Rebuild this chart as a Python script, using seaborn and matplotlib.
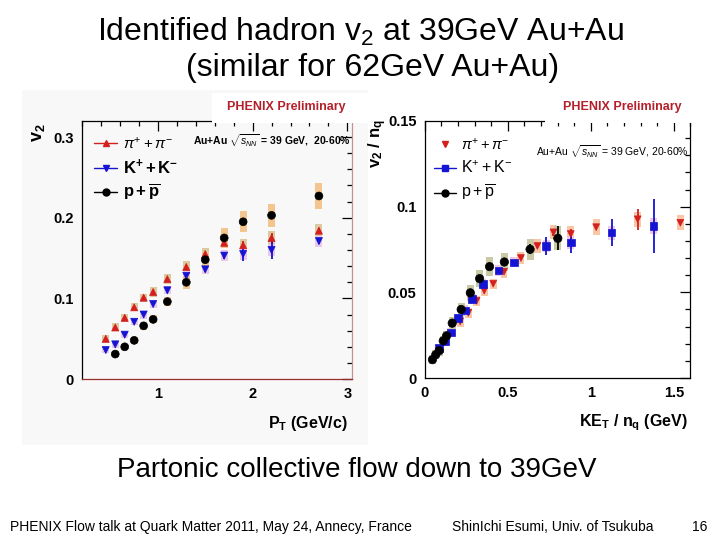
import numpy as np
import pandas as pd
import seaborn as sns
import matplotlib
matplotlib.use("Agg")
import matplotlib.pyplot as plt
from matplotlib.lines import Line2D
from matplotlib.patches import Rectangle
from matplotlib.ticker import MultipleLocator

# ---- left panel: v2 vs pT ----
pt_pi = [0.45, 0.55, 0.65, 0.75, 0.85, 0.95, 1.1, 1.3, 1.5, 1.7, 1.9, 2.2, 2.7]
v2_pi = [0.050, 0.064, 0.076, 0.089, 0.101, 0.108, 0.124, 0.139, 0.155, 0.169, 0.166, 0.175, 0.184]
stat_pi = [0.001, 0.001, 0.001, 0.001, 0.001, 0.001, 0.001, 0.002, 0.002, 0.003, 0.005, 0.006, 0.003]
sys_pi = [0.005, 0.005, 0.005, 0.005, 0.005, 0.006, 0.006, 0.007, 0.007, 0.007, 0.008, 0.008, 0.008]

pt_k = [0.45, 0.55, 0.65, 0.75, 0.85, 0.95, 1.1, 1.3, 1.5, 1.7, 1.9, 2.2, 2.7]
v2_k = [0.036, 0.043, 0.055, 0.071, 0.080, 0.093, 0.110, 0.128, 0.136, 0.153, 0.155, 0.160, 0.171]
stat_k = [0.001, 0.001, 0.001, 0.001, 0.001, 0.001, 0.002, 0.002, 0.003, 0.004, 0.009, 0.011, 0.004]
sys_k = [0.004, 0.004, 0.004, 0.004, 0.005, 0.005, 0.005, 0.006, 0.006, 0.007, 0.007, 0.007, 0.007]

pt_p = [0.55, 0.65, 0.75, 0.85, 0.95, 1.1, 1.3, 1.5, 1.7, 1.9, 2.2, 2.7]
v2_p = [0.031, 0.040, 0.048, 0.066, 0.074, 0.096, 0.120, 0.148, 0.175, 0.195, 0.203, 0.227]
stat_p = [0.001, 0.001, 0.001, 0.001, 0.001, 0.002, 0.002, 0.002, 0.003, 0.003, 0.004, 0.004]
sys_p = [0.004, 0.004, 0.004, 0.005, 0.005, 0.006, 0.008, 0.010, 0.012, 0.013, 0.014, 0.016]

# ---- right panel: v2/nq vs KET/nq ----
ket_pi = [0.213, 0.262, 0.312, 0.358, 0.412, 0.477, 0.579, 0.678, 0.775, 0.879, 1.032, 1.282, 1.539]
v2n_pi = [0.033, 0.038, 0.045, 0.051, 0.055, 0.062, 0.070, 0.077, 0.085, 0.084, 0.088, 0.0926, 0.0906]
statn_pi = [0.0, 0.0, 0.0, 0.0, 0.0, 0.0, 0.0, 0.001, 0.002, 0.003, 0.001, 0.006, 0.001]
sysn_pi = [0.003, 0.003, 0.003, 0.003, 0.003, 0.0035, 0.0035, 0.004, 0.004, 0.0045, 0.0045, 0.0045, 0.0045]

ket_k = [0.087, 0.121, 0.157, 0.201, 0.241, 0.286, 0.350, 0.443, 0.537, 0.730, 0.879, 1.125, 1.378]
v2n_k = [0.0175, 0.0213, 0.0266, 0.035, 0.0394, 0.046, 0.0547, 0.0627, 0.0675, 0.077, 0.079, 0.0848, 0.0887]
statn_k = [0.0, 0.0, 0.0, 0.0, 0.0, 0.0, 0.0, 0.001, 0.001, 0.005, 0.006, 0.008, 0.016]
sysn_k = [0.0025, 0.0025, 0.0025, 0.0025, 0.003, 0.003, 0.003, 0.003, 0.003, 0.0035, 0.004, 0.004, 0.0045]

ket_p = [0.046, 0.066, 0.087, 0.111, 0.131, 0.165, 0.219, 0.274, 0.330, 0.390, 0.479, 0.634, 0.801]
v2n_p = [0.0107, 0.0136, 0.016, 0.0217, 0.0246, 0.032, 0.040, 0.0497, 0.058, 0.065, 0.0677, 0.0751, 0.0815]
statn_p = [0.0, 0.0, 0.0, 0.0, 0.0, 0.0, 0.0, 0.0, 0.001, 0.001, 0.001, 0.003, 0.007]
sysn_p = [0.0025, 0.0025, 0.003, 0.003, 0.003, 0.0035, 0.004, 0.0045, 0.005, 0.0055, 0.0055, 0.006, 0.007]

RED = "#d41f1f"
BLUE = "#1414d2"
BLACK = "#000000"
DARKRED = "#b3202a"

sns.set_style("white")
plt.rcParams["font.family"] = ["Liberation Sans", "DejaVu Sans"]
plt.rcParams["text.color"] = "black"
plt.rcParams["mathtext.fontset"] = "custom"
plt.rcParams["mathtext.rm"] = "Liberation Sans"
plt.rcParams["mathtext.it"] = "Liberation Sans:italic"
plt.rcParams["mathtext.bf"] = "Liberation Sans:bold"

fig = plt.figure(figsize=(7.2, 5.4), dpi=100)
fig.patch.set_facecolor("white")
# faint grey background of the pasted left picture
fig.patches.append(Rectangle((22 / 720, 1 - 445 / 540), 346 / 720, 355 / 540,
                             transform=fig.transFigure, facecolor="#f8f8f8",
                             edgecolor="none", zorder=-5))

ax1 = fig.add_axes([0.114, 0.298, 0.375, 0.478])
ax2 = fig.add_axes([0.590, 0.300, 0.369, 0.476])


def draw_species(ax, x, y, stat, sys, width, box_color, color, marker, size, name):
    y = np.asarray(y)
    sys = np.asarray(sys)
    ax.bar(x, 2 * sys, bottom=y - sys, width=width, color=box_color,
           edgecolor="none", zorder=1)
    ax.errorbar(x, y, yerr=stat, fmt="none", ecolor=color, elinewidth=1.3,
                capsize=0, zorder=2)
    df = pd.DataFrame({"x": x, "y": y, "species": name})
    sns.scatterplot(data=df, x="x", y="y", hue="species", palette={name: color},
                    marker=marker, s=size, edgecolor=color, linewidth=0.5,
                    legend=False, ax=ax, zorder=3)


# left panel
draw_species(ax1, pt_pi, v2_pi, stat_pi, sys_pi, 0.075, "#dcc9a0", RED, "^", 26, "pi")
draw_species(ax1, pt_k, v2_k, stat_k, sys_k, 0.075, "#ebc8e8", BLUE, "v", 26, "K")
draw_species(ax1, pt_p, v2_p, stat_p, sys_p, 0.075, "#f2c68e", BLACK, "o", 32, "p")

# right panel
draw_species(ax2, ket_pi, v2n_pi, statn_pi, sysn_pi, 0.042, "#f8c7a8", RED, "v", 24, "pi")
draw_species(ax2, ket_k, v2n_k, statn_k, sysn_k, 0.042, "#f0c8e6", BLUE, "s", 30, "K")
draw_species(ax2, ket_p, v2n_p, statn_p, sysn_p, 0.042, "#c9c9a6", BLACK, "o", 36, "p")

ax1.set_xlim(0.2, 3.05)
ax1.set_ylim(0, 0.32)
ax1.xaxis.set_major_locator(MultipleLocator(1))
ax1.xaxis.set_minor_locator(MultipleLocator(0.2))
ax1.yaxis.set_major_locator(MultipleLocator(0.1))
ax1.yaxis.set_minor_locator(MultipleLocator(0.02))

ax2.set_xlim(0, 1.6)
ax2.set_ylim(0, 0.15)
ax2.xaxis.set_major_locator(MultipleLocator(0.5))
ax2.xaxis.set_minor_locator(MultipleLocator(0.1))
ax2.yaxis.set_major_locator(MultipleLocator(0.05))
ax2.yaxis.set_minor_locator(MultipleLocator(0.01))

for ax in (ax1, ax2):
    ax.set_facecolor("none")
    ax.set_xlabel("")
    ax.set_ylabel("")
    ax.tick_params(which="both", direction="in", top=True, right=True,
                   width=0.9, labelsize=10.5, pad=6, colors="black")
    ax.tick_params(which="major", length=7)
    ax.tick_params(which="minor", length=3.5)
    for sp in ax.spines.values():
        sp.set_linewidth(0.9)
        sp.set_color("black")

ax1.set_xticks([1, 2, 3])
ax1.set_xticklabels(["1", "2", "3"], fontweight="bold")
ax1.set_yticks([0, 0.1, 0.2, 0.3])
ax1.set_yticklabels(["0", "0.1", "0.2", "0.3"], fontweight="bold")
ax1.spines["bottom"].set_color("#9b2c2c")
ax1.spines["right"].set_color("#c89090")

ax2.set_xticks([0, 0.5, 1, 1.5])
ax2.set_xticklabels(["0", "0.5", "1", "1.5"], fontweight="bold")
ax2.set_yticks([0, 0.05, 0.1, 0.15])
ax2.set_yticklabels(["0", "0.05", "0.1", "0.15"], fontweight="bold")

# axis titles
ax1.text(-0.163, 0.953, r"$\mathbf{v_2}$", transform=ax1.transAxes, rotation=90,
         ha="center", va="center", fontsize=13)
ax1.text(0.985, -0.174, r"$\mathbf{P_T}$ (GeV/c)", transform=ax1.transAxes,
         ha="right", va="center", fontsize=11.5, fontweight="bold")
ax2.text(-0.177, 0.914, r"$\mathbf{v_2}$ / $\mathbf{n_q}$", transform=ax2.transAxes,
         rotation=90, ha="center", va="center", fontsize=12, fontweight="bold")
ax2.text(0.989, -0.175, r"$\mathbf{KE_T}$ / $\mathbf{n_q}$ (GeV)", transform=ax2.transAxes,
         ha="right", va="center", fontsize=11.5, fontweight="bold")

# system label
ax1.text(0.995, 0.922, r"Au+Au $\sqrt{s_{NN}}$ = 39 GeV,  20-60%", transform=ax1.transAxes,
         ha="right", va="center", fontsize=7.5, fontweight="bold")
ax2.text(0.995, 0.879, r"Au+Au $\sqrt{s_{NN}}$ = 39 GeV, 20-60%", transform=ax2.transAxes,
         ha="right", va="center", fontsize=7.5)

# legends
h1 = [Line2D([], [], color=RED, marker="^", markersize=5, lw=1),
      Line2D([], [], color=BLUE, marker="v", markersize=5, lw=1),
      Line2D([], [], color=BLACK, marker="o", markersize=5, lw=1)]
l1 = [r"$\pi^{+}+\pi^{-}$", r"$\mathbf{K^{+} + K^{-}}$", r"$\mathbf{p + \overline{p}}$"]
leg1 = ax1.legend(h1, l1, loc="upper left", bbox_to_anchor=(0.02, 0.97), frameon=False,
                  handlelength=1.4, handletextpad=0.35, labelspacing=0.35, fontsize=12,
                  borderaxespad=0)
leg1.get_texts()[0].set_fontsize(11)

h2 = [Line2D([], [], color=RED, marker="v", markersize=5, lw=0),
      Line2D([], [], color=BLUE, marker="s", markersize=5, lw=1),
      Line2D([], [], color=BLACK, marker="o", markersize=5, lw=1)]
l2 = [r"$\pi^{+}+\pi^{-}$", r"$\mathrm{K^{+} + K^{-}}$", r"$\mathrm{p + \overline{p}}$"]
leg2 = ax2.legend(h2, l2, loc="upper left", bbox_to_anchor=(0.01, 0.965), frameon=False,
                  handlelength=1.4, handletextpad=0.3, labelspacing=0.45, fontsize=11.5,
                  borderaxespad=0)
leg2.get_texts()[0].set_fontsize(10.5)

# PHENIX Preliminary labels on white patches covering the top frame
for x0, xc in ((212, 286), (545, 622)):
    fig.patches.append(Rectangle((x0 / 720, 1 - 123 / 540), 158 / 720, 30 / 540,
                                 transform=fig.transFigure, facecolor="white",
                                 edgecolor="none", zorder=5))
    fig.text(xc / 720, 1 - 107 / 540, "PHENIX Preliminary", color=DARKRED,
             fontsize=9, fontweight="bold", ha="center", va="center", zorder=6)

# slide text
fig.text(0.5, 1 - 32 / 540, r"Identified hadron v$_2$ at 39GeV Au+Au",
         ha="center", va="center", fontsize=23)
fig.text(0.518, 1 - 68 / 540, "(similar for 62GeV Au+Au)",
         ha="center", va="center", fontsize=23)
fig.text(357 / 720, 1 - 470 / 540, "Partonic collective flow down to 39GeV",
         ha="center", va="center", fontsize=20)
fig.text(10 / 720, 1 - 527 / 540,
         "PHENIX Flow talk at Quark Matter 2011, May 24, Annecy, France",
         ha="left", va="center", fontsize=10)
fig.text(452 / 720, 1 - 527 / 540, "ShinIchi Esumi, Univ. of Tsukuba",
         ha="left", va="center", fontsize=10)
fig.text(700 / 720, 1 - 527 / 540, "16", ha="center", va="center", fontsize=10)

fig.savefig("out.png", dpi=100)
